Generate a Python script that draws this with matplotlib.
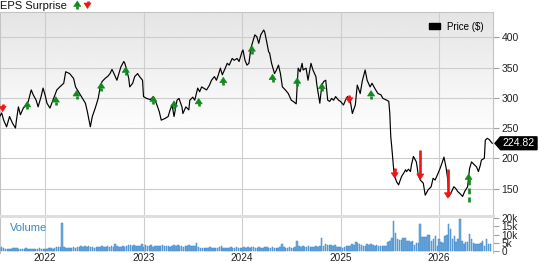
import matplotlib
matplotlib.use('Agg')
import numpy as np
import matplotlib.pyplot as plt
from matplotlib.patches import Polygon, Patch
from matplotlib.lines import Line2D
from matplotlib.transforms import ScaledTranslation, blended_transform_factory

plt.rcParams['font.family'] = ['Liberation Sans', 'DejaVu Sans']

# ---- data ----
years = [2021.54, 2021.56, 2021.58, 2021.61, 2021.64, 2021.67, 2021.70, 2021.71, 2021.73, 2021.75,
         2021.78, 2021.81, 2021.83, 2021.86, 2021.88, 2021.91, 2021.93, 2021.96, 2021.98, 2022.00,
         2022.02, 2022.05, 2022.08, 2022.12, 2022.15, 2022.19, 2022.21, 2022.25, 2022.29, 2022.31,
         2022.34, 2022.37, 2022.41, 2022.43, 2022.46, 2022.48, 2022.51, 2022.54, 2022.56, 2022.58,
         2022.61, 2022.64, 2022.66, 2022.68, 2022.70, 2022.73, 2022.75, 2022.77, 2022.80, 2022.81,
         2022.83, 2022.85, 2022.86, 2022.89, 2022.91, 2022.94, 2022.96, 2022.99, 2023.00, 2023.03,
         2023.07, 2023.10, 2023.13, 2023.16, 2023.18, 2023.22, 2023.25, 2023.27, 2023.29, 2023.31,
         2023.34, 2023.36, 2023.39, 2023.40, 2023.43, 2023.46, 2023.47, 2023.50, 2023.52, 2023.55,
         2023.57, 2023.59, 2023.61, 2023.64, 2023.67, 2023.69, 2023.72, 2023.74, 2023.76, 2023.78,
         2023.80, 2023.83, 2023.85, 2023.87, 2023.90, 2023.92, 2023.95, 2023.97, 2024.00, 2024.01,
         2024.03, 2024.05, 2024.07, 2024.09, 2024.11, 2024.13, 2024.15, 2024.17, 2024.19, 2024.22,
         2024.23, 2024.25, 2024.27, 2024.28, 2024.30, 2024.33, 2024.35, 2024.37, 2024.39, 2024.41,
         2024.44, 2024.47, 2024.50, 2024.52, 2024.55, 2024.56, 2024.57, 2024.59, 2024.61, 2024.62,
         2024.65, 2024.67, 2024.70, 2024.72, 2024.75, 2024.76, 2024.79, 2024.81, 2024.83, 2024.85,
         2024.87, 2024.89, 2024.91, 2024.93, 2024.95, 2024.98, 2025.00, 2025.03, 2025.05, 2025.07,
         2025.10, 2025.12, 2025.15, 2025.17, 2025.20, 2025.22, 2025.25, 2025.27, 2025.30, 2025.32,
         2025.35, 2025.38, 2025.41, 2025.43, 2025.47, 2025.49, 2025.50, 2025.51, 2025.52, 2025.54,
         2025.55, 2025.57, 2025.59, 2025.60, 2025.62, 2025.64, 2025.66, 2025.67, 2025.69, 2025.71,
         2025.72, 2025.74, 2025.76, 2025.77, 2025.79, 2025.81, 2025.84, 2025.86, 2025.89, 2025.92,
         2025.94, 2025.96, 2025.99, 2026.01, 2026.03, 2026.05, 2026.07, 2026.09, 2026.10, 2026.12,
         2026.15, 2026.17, 2026.19, 2026.21, 2026.24, 2026.26, 2026.29, 2026.31, 2026.33, 2026.36,
         2026.38, 2026.40, 2026.42, 2026.43, 2026.46, 2026.47, 2026.49, 2026.51, 2026.53, 2026.54]
price = [269, 275, 263, 252, 269, 258, 250, 263, 285, 272,
         283, 288, 294, 313, 305, 296, 285, 302, 316, 305,
         291, 283, 296, 313, 318, 324, 343, 340, 332, 318,
         310, 302, 291, 277, 252, 269, 283, 299, 318, 327,
         332, 336, 340, 347, 340, 329, 340, 351, 360, 357,
         346, 332, 318, 324, 335, 340, 335, 329, 302, 299,
         297, 302, 291, 277, 263, 266, 269, 280, 288, 269,
         296, 299, 285, 274, 285, 280, 296, 301, 296, 316,
         310, 318, 316, 313, 321, 329, 335, 329, 338, 349,
         338, 349, 357, 354, 365, 362, 365, 360, 376, 379,
         362, 354, 357, 382, 393, 404, 401, 390, 404, 412,
         409, 393, 376, 374, 357, 340, 346, 354, 340, 318,
         313, 307, 296, 294, 290, 318, 349, 343, 357, 346,
         349, 329, 357, 346, 335, 321, 291, 321, 327, 329,
         296, 294, 299, 296, 302, 296, 294, 288, 296, 302,
         294, 274, 288, 321, 307, 327, 346, 329, 318, 324,
         315, 307, 305, 299, 296, 294, 275, 236, 219, 181,
         170, 161, 156, 161, 170, 175, 181, 178, 182, 178,
         189, 203, 197, 194, 172, 164, 159, 139, 148, 153,
         167, 164, 175, 183, 192, 202, 186, 164, 137, 142,
         153, 150, 145, 142, 137, 145, 153, 183, 194, 189,
         186, 178, 189, 197, 200, 230, 233, 231, 227, 224.82]
last_price = 224.82

# earnings surprises: date, price at arrow tip, beat?, arrow length (px)
eps_years = [2021.57, 2021.82, 2022.11, 2022.32, 2022.57, 2022.82, 2023.10, 2023.31, 2023.56, 2023.81,
             2024.10, 2024.31, 2024.56, 2024.81, 2025.09, 2025.31, 2025.55, 2025.81, 2026.09, 2026.30]
eps_tip = [277, 294, 302, 312, 325, 351, 303, 295, 299, 334,
           386, 339, 333, 324, 291, 312, 167, 165, 134, 174]
eps_beat = [False, True, True, True, True, True, True, True, True, True,
            True, True, True, True, False, True, False, False, False, True]
eps_len = [8, 8, 8, 8, 8, 8, 8, 8, 8, 8,
           8, 8, 8, 8, 8, 8, 10, 29, 29, 28]

# weekly volume, thousands
vol_start = 2021.54
volume_k = [2.0, 2.6, 1.8, 1.5, 1.6, 1.7, 1.5, 1.9, 2.2, 1.8, 1.6, 1.7, 1.5, 1.4, 1.8, 1.6, 1.5, 1.3, 1.7, 1.5,
            1.4, 1.8, 1.6, 1.5, 1.5, 1.6, 1.8, 2.0, 1.7, 2.2, 2.6, 2.9, 2.5, 17.0,
            2.8, 2.3, 2.0, 1.8, 2.2, 2.5, 2.0, 2.6, 2.9, 3.1, 2.7, 3.0, 2.4, 3.2, 2.8, 2.5, 2.2, 2.6,
            2.8, 2.5, 3.0, 2.7, 2.4, 3.1, 2.9, 3.3, 2.8, 4.2, 3.0, 2.6, 2.9, 3.2, 2.7, 3.4, 3.8, 3.6,
            3.2, 3.9, 3.5, 3.1, 3.4, 4.6,
            2.5, 4.0, 3.0, 3.3, 3.6, 2.8, 3.2, 3.5, 3.4, 3.0, 3.7, 3.3, 3.5, 3.1, 2.9, 3.4, 3.6, 3.2,
            3.8, 3.0, 3.3, 2.9, 3.5, 3.2, 3.6, 3.0, 3.4, 3.1, 5.2,
            2.6, 2.2, 2.0, 2.3, 1.9, 2.1, 2.4, 2.0, 2.2, 1.8, 2.3, 2.5, 3.4, 2.2, 2.0, 2.3, 1.9, 2.6,
            2.1, 1.8, 2.4, 2.0, 2.2, 1.9, 2.5,
            2.3, 2.7, 2.0, 2.5, 2.9, 2.2, 2.0, 2.6, 2.3, 2.1, 2.4, 2.8, 2.0, 2.2, 2.5, 1.9, 2.3, 2.1,
            2.4, 4.4, 2.6, 2.2, 2.0, 2.5, 2.3, 2.1,
            2.6, 6.3, 3.4, 2.9, 3.2, 2.6, 2.8, 3.0, 2.5, 2.7, 2.4, 3.1, 2.6, 3.3, 8.0, 3.5, 4.2, 3.6,
            4.0, 3.8, 3.4, 4.1, 2.8, 2.5, 2.9, 1.8, 2.6, 3.0, 3.5, 3.2, 4.5, 3.9, 5.5, 4.8, 4.2, 3.6,
            3.0, 3.5, 4.3, 3.8, 4.6, 3.7, 3.3, 3.9,
            3.0, 3.0, 3.1, 3.0, 3.1, 5.8, 6.2, 8.3, 18.0, 11.3, 7.7, 6.7, 6.9, 8.1, 7.9, 6.4, 6.2, 5.8,
            6.2, 4.0, 4.8, 4.8, 16.7, 8.9, 8.6, 8.6, 10.0, 10.0, 6.5, 7.7, 9.0, 3.0, 7.7, 5.8, 4.8, 9.3,
            10.0, 16.3, 13.3, 7.3, 9.0, 5.4, 7.7, 19.6, 6.5, 4.4, 5.4, 5.4, 10.3, 7.7, 5.0, 4.6, 4.4, 4.6,
            5.0, 6.0, 3.4, 7.3, 4.4, 4.6]

year_ticks = [2022, 2023, 2024, 2025, 2026]
price_ticks = [150, 200, 250, 300, 350, 400]
vol_ticks = [0, 5, 10, 15, 20]
vol_labels = ['0', '5k', '10k', '15k', '20k']

GREEN = '#12891c'
RED = '#f01414'
GRID = '#cdcdcd'
W, H = 538, 262


def box(l, t, r, b):
    return [l / W, 1 - b / H, (r - l) / W, (b - t) / H]


def arrow(x, y, up, length, color, trans, host, dashed=False):
    # tip at (x, y); sizes in pixels
    tr = ScaledTranslation(x, y, trans)
    s = -1 if up else 1
    hw, hh = 3.6, 5.5
    head = Polygon([(0, 0), (-hw, s * hh), (hw, s * hh)], closed=True, transform=tr,
                   fc=color, ec=color, lw=0.4, zorder=6, clip_on=False)
    stem = Line2D([0, 0], [s * (hh - 0.5), s * length], transform=tr, color=color, lw=1.9,
                  ls=(0, (2.2, 1.2)) if dashed else '-', solid_capstyle='butt', zorder=6,
                  clip_on=False)
    host.add_artist(head)
    host.add_artist(stem)


fig = plt.figure(figsize=(W / 100, H / 100), dpi=100)
ax = fig.add_axes(box(0, 12, 493, 216))
axv = fig.add_axes(box(0, 216, 493, 252.5), sharex=ax)

# background gradient of the price panel
grad = np.concatenate([np.linspace(0.895, 1.0, 256), np.ones(160)])[:, None]
ax.imshow(grad, extent=[0, 1, 0, 1], transform=ax.transAxes, cmap='gray', vmin=0, vmax=1,
          aspect='auto', origin='upper', zorder=0)

ax.plot(years, price, color='black', lw=0.85, zorder=3)

for yx, tip, beat, ln in zip(eps_years, eps_tip, eps_beat, eps_len):
    arrow(yx, tip, beat, ln, GREEN if beat else RED, ax.transData, ax, dashed=beat)

ax.set_xlim(2021.543, 2026.548)
ax.set_ylim(104.6, 441.8)
ax.set_yticks(price_ticks)
ax.yaxis.tick_right()
ax.tick_params(axis='y', length=4, color='#a0a0a0', labelsize=7.5, pad=2, labelcolor='#222222')
ax.tick_params(axis='x', length=0, labelbottom=False)
ax.grid(True, color=GRID, lw=0.8)
for sp in ax.spines.values():
    sp.set_color('#c4c4c4')
    sp.set_linewidth(0.8)
ax.spines['bottom'].set_visible(False)

ax.legend(handles=[Patch(fc='black', ec='black')], labels=['Price ($)'], loc='upper right',
          frameon=False, fontsize=7, handlelength=1.1, handleheight=0.55,
          handletextpad=0.7, borderaxespad=0.6)

# last price tag
tag_tr = ScaledTranslation(1.0, last_price, blended_transform_factory(ax.transAxes, ax.transData))
fig.add_artist(Polygon([(2, 0), (7.5, 6.4), (44, 6.4), (44, -6.4), (7.5, -6.4)], closed=True,
                       transform=tag_tr, fc='black', ec='black', clip_on=False, zorder=10))
fig.text(25.5, 0, f'{last_price:.2f}', transform=tag_tr, ha='center', va='center',
         color='white', fontsize=7.5, zorder=11)

# volume panel
vol_x = [vol_start + i / 52 for i in range(len(volume_k))]
axv.bar(vol_x, volume_k, width=0.8 / 52, color='#72aade', edgecolor='#3d88cc', lw=0.35, zorder=3)
axv.set_ylim(-0.6, 21.2)
axv.set_yticks(vol_ticks)
axv.set_yticklabels(vol_labels)
axv.yaxis.tick_right()
axv.tick_params(axis='y', length=4, color='#a0a0a0', labelsize=7.2, pad=2, labelcolor='#222222')
axv.set_xticks(year_ticks)
axv.set_xticklabels([str(y) for y in year_ticks])
axv.tick_params(axis='x', length=0, labelsize=7.2, pad=0.6, labelcolor='#222222')
axv.grid(axis='x', color=GRID, lw=0.8)
axv.set_axisbelow(True)
for sp in axv.spines.values():
    sp.set_color('#c4c4c4')
    sp.set_linewidth(0.8)
axv.spines['top'].set_color('#dedede')
axv.spines['top'].set_linewidth(2.2)
axv.spines['bottom'].set_visible(False)
axv.text(0.02, 0.68, 'Volume', transform=axv.transAxes, color='#3a87c8', fontsize=8, va='center')

# header
fig.text(0.5 / W, 1 - 9 / H, 'EPS Surprise', fontsize=8, va='baseline', color='#111111')
arrow(77.3 / W, 1 - 1 / H, True, 8, GREEN, fig.transFigure, fig)
arrow(87.5 / W, 1 - 8.5 / H, False, 7.5, RED, fig.transFigure, fig)

fig.savefig('out.png', dpi=100)
